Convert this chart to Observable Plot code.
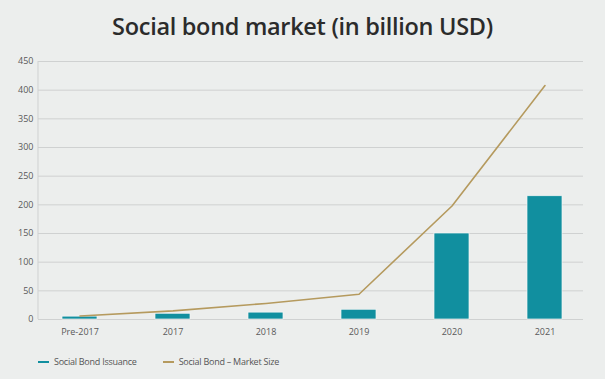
<!DOCTYPE html>
<html>
<head>
<meta charset="utf-8">
<script src="https://cdn.jsdelivr.net/npm/d3@7"></script>
<script src="https://cdn.jsdelivr.net/npm/@observablehq/plot@0.6"></script>
<style>
  html, body { margin: 0; padding: 0; background: #eceeed; }
  body { width: 605px; height: 379px; overflow: hidden; font-family: "Open Sans", sans-serif; position: relative; }
  #title { height: 50px; line-height: 52px; text-align: center; font-size: 23.5px; font-weight: 600; color: #2b2b2b; letter-spacing: -0.3px; }
  #legend { position: absolute; top: 355px; left: 38px; font-size: 9px; color: #555; display: flex; align-items: center; letter-spacing: -0.25px; }
  .sw { display: inline-block; width: 11px; height: 2px; margin-right: 5px; }
  .item { display: flex; align-items: center; margin-right: 26px; }
</style>
</head>
<body>
<div id="title">Social bond market (in billion USD)</div>
<div id="chart"></div>
<div id="legend"></div>
<script>
const categories = ["Pre-2017", "2017", "2018", "2019", "2020", "2021"];
const issuance = [5, 10, 12, 17, 150, 215];
const marketSize = [6, 15, 28, 44, 198, 408];
const yTicks = [0, 50, 100, 150, 200, 250, 300, 350, 400, 450];
const seriesNames = ["Social Bond Issuance", "Social Bond \u2013 Market Size"];
const colors = ["#118f9f", "#b59a5e"];

const data = categories.map((c, i) => ({cat: c, issuance: issuance[i], market: marketSize[i]}));

const chart = Plot.plot({
  width: 605,
  height: 295,
  marginTop: 11,
  marginBottom: 26,
  marginLeft: 38,
  marginRight: 18,
  style: { background: "transparent", fontFamily: "Open Sans, sans-serif", fontSize: "9px", color: "#595959" },
  x: { domain: categories, paddingInner: 0.62, paddingOuter: 0.261, label: null, tickSize: 0, tickPadding: 9 },
  y: { domain: [0, 450], ticks: yTicks, label: null, tickSize: 0, tickPadding: 5 },
  marks: [
    Plot.ruleY(yTicks, { stroke: "#cfd1d1", strokeWidth: 1, insetRight: 4 }),
    Plot.barY(data, { x: "cat", y: "issuance", fill: colors[0], stroke: "#f4f6f6", strokeWidth: 0.7 }),
    Plot.line(data, { x: "cat", y: "market", stroke: colors[1], strokeWidth: 1.6 })
  ]
});

// left axis line along the frame's left edge
const ys = chart.scale("y");
d3.select(chart).append("line")
  .attr("x1", 38).attr("x2", 38)
  .attr("y1", ys.range[0]).attr("y2", ys.range[1])
  .attr("stroke", "#cfd1d1");

document.getElementById("chart").appendChild(chart);

const legend = document.getElementById("legend");
seriesNames.forEach((n, i) => {
  const it = document.createElement("div");
  it.className = "item";
  const sw = document.createElement("span");
  sw.className = "sw";
  sw.style.backgroundColor = colors[i];
  it.appendChild(sw);
  it.appendChild(document.createTextNode(n));
  legend.appendChild(it);
});
</script>
</body>
</html>
